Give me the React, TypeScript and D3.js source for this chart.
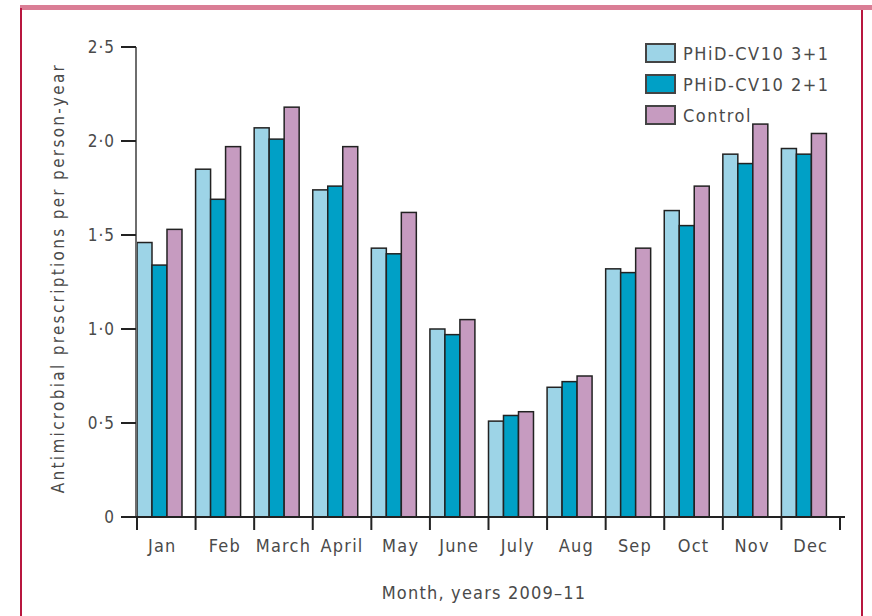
import React, { useRef, useEffect } from "react"
import * as d3 from "d3"

const months = ["Jan", "Feb", "March", "April", "May", "June", "July", "Aug", "Sep", "Oct", "Nov", "Dec"]
const seriesNames = ["PHiD-CV10 3+1", "PHiD-CV10 2+1", "Control"]
const vals3p1 = [1.46, 1.85, 2.07, 1.74, 1.43, 1.0, 0.51, 0.69, 1.32, 1.63, 1.93, 1.96]
const vals2p1 = [1.34, 1.69, 2.01, 1.76, 1.4, 0.97, 0.54, 0.72, 1.3, 1.55, 1.88, 1.93]
const valsCtrl = [1.53, 1.97, 2.18, 1.97, 1.62, 1.05, 0.56, 0.75, 1.43, 1.76, 2.09, 2.04]
const yTicks = [0, 0.5, 1.0, 1.5, 2.0, 2.5]
const colors = ["#9dd4e7", "#00a0c6", "#c69bc0"]

const FONT = "'DejaVu Sans Condensed', sans-serif"
const TXT = "#4a4a4a"

const App = () => {
    const ref = useRef<SVGSVGElement>(null)

    useEffect(() => {
        const svg = d3.select(ref.current)
        svg.selectAll("*").remove()

        // frame
        svg.append("rect").attr("x", 20).attr("y", 5).attr("width", 852).attr("height", 5).attr("fill", "#da7d95")
        svg.append("rect").attr("x", 20).attr("y", 8).attr("width", 2).attr("height", 608).attr("fill", "#b8163f")
        svg.append("rect").attr("x", 861).attr("y", 10).attr("width", 2).attr("height", 606).attr("fill", "#b8163f")

        const x = d3.scaleBand().domain(months).range([137, 840])
        const y = d3.scaleLinear().domain([0, 2.5]).range([517, 47])
        const bw = x.bandwidth() * 0.256

        const series = [vals3p1, vals2p1, valsCtrl]
        series.forEach((vals, s) => {
            svg.append("g")
                .selectAll("rect")
                .data(vals)
                .enter()
                .append("rect")
                .attr("x", (d, i) => (x(months[i]) as number) + s * bw)
                .attr("y", d => y(d))
                .attr("width", bw)
                .attr("height", d => y(0) - y(d))
                .attr("fill", colors[s])
                .attr("stroke", "#222")
                .attr("stroke-width", 1.5)
        })

        // y axis
        svg.append("line").attr("x1", 136).attr("x2", 136).attr("y1", y(2.5)).attr("y2", y(0))
            .attr("stroke", "#6e6e6e").attr("stroke-width", 2)
        const yt = svg.append("g").selectAll("g").data(yTicks).enter().append("g")
        yt.append("line").attr("x1", 121).attr("x2", 136).attr("y1", d => y(d)).attr("y2", d => y(d))
            .attr("stroke", "#222").attr("stroke-width", 2)
        yt.append("text").attr("x", 115).attr("y", d => y(d) + 6).attr("text-anchor", "end")
            .attr("font-family", FONT).attr("font-size", 17).attr("letter-spacing", 1).attr("fill", TXT)
            .text(d => d === 0 ? "0" : d3.format(".1f")(d).replace(".", "·"))

        // x axis
        svg.append("line").attr("x1", 121).attr("x2", 845).attr("y1", y(0)).attr("y2", y(0))
            .attr("stroke", "#222").attr("stroke-width", 2)
        const bounds = months.map(m => x(m) as number).concat([840])
        svg.append("g").selectAll("line").data(bounds).enter().append("line")
            .attr("x1", d => d).attr("x2", d => d).attr("y1", y(0)).attr("y2", y(0) + 13)
            .attr("stroke", "#222").attr("stroke-width", 2)
        svg.append("g").selectAll("text").data(months).enter().append("text")
            .attr("x", d => (x(d) as number) + x.bandwidth() / 2 - (d === "Jan" ? 4 : 0))
            .attr("y", 552)
            .attr("text-anchor", "middle")
            .attr("font-family", FONT).attr("font-size", 18).attr("letter-spacing", 1.2).attr("fill", TXT)
            .text(d => d)

        svg.append("text").attr("x", 484).attr("y", 599).attr("text-anchor", "middle")
            .attr("font-family", FONT).attr("font-size", 18).attr("letter-spacing", 1.2).attr("fill", TXT)
            .text("Month, years 2009–11")
        svg.append("text").attr("transform", "translate(64,278) rotate(-90)").attr("text-anchor", "middle")
            .attr("font-family", FONT).attr("font-size", 17).attr("letter-spacing", 2.3).attr("fill", TXT)
            .text("Antimicrobial prescriptions per person-year")

        // legend
        const lg = svg.append("g").selectAll("g").data(seriesNames).enter().append("g")
            .attr("transform", (d, i) => `translate(646, ${44 + i * 31})`)
        lg.append("rect").attr("width", 29).attr("height", 18)
            .attr("fill", (d, i) => colors[i]).attr("stroke", "#444").attr("stroke-width", 2)
        lg.append("text").attr("x", 37).attr("y", 16)
            .attr("font-family", FONT).attr("font-size", 18).attr("letter-spacing", 1.5).attr("fill", TXT)
            .text(d => d)
    }, [])

    return (
        <svg ref={ref} width={872} height={616}
            style={{ position: "absolute", left: 0, top: 0, background: "#fff" }} />
    )
}

export default App
